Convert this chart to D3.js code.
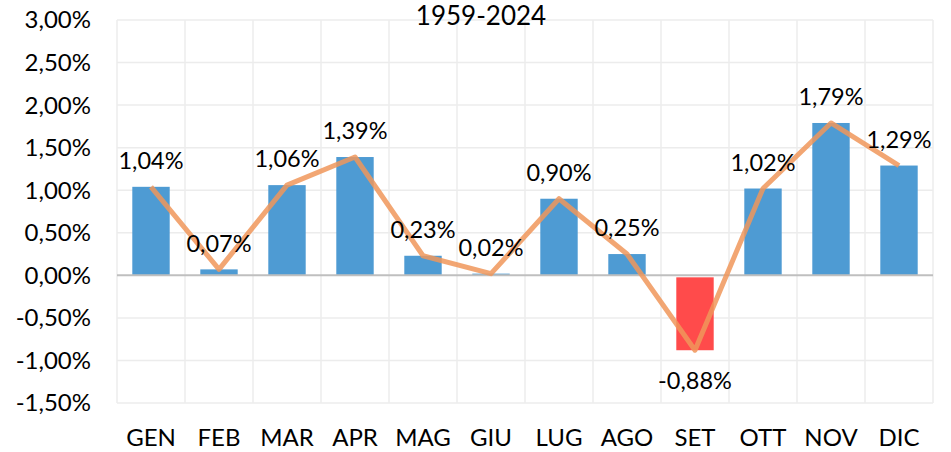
<!DOCTYPE html>
<html>
<head>
<meta charset="utf-8">
<script src="https://cdn.jsdelivr.net/npm/d3@7"></script>
<style>
  body { margin: 0; background: #fff; }
  svg text { font-family: Lato, "Open Sans", sans-serif; fill: #000; }
</style>
</head>
<body>
<div id="chart"></div>
<script>
// months and monthly average returns (%)
var months = ["GEN", "FEB", "MAR", "APR", "MAG", "GIU", "LUG", "AGO", "SET", "OTT", "NOV", "DIC"];
var values = [1.04, 0.07, 1.06, 1.39, 0.23, 0.02, 0.90, 0.25, -0.88, 1.02, 1.79, 1.29];
var yTicks = [-1.5, -1, -0.5, 0, 0.5, 1, 1.5, 2, 2.5, 3];
var title = "1959-2024";

var width = 951, height = 452;
var margin = {top: 20, right: 18, bottom: 49, left: 117};

var svg = d3.select("#chart").append("svg")
    .attr("width", width)
    .attr("height", height);

var x = d3.scaleBand()
    .domain(months)
    .range([margin.left, width - margin.right])
    .paddingInner(0.45)
    .paddingOuter(0.225);

var xGrid = d3.scaleBand()
    .domain(months)
    .range([margin.left, width - margin.right]);

var y = d3.scaleLinear()
    .domain([-1.5, 3])
    .range([height - margin.bottom, margin.top]);

// italian style: comma decimal, plain hyphen for minus
var fmt = function(v) { return d3.format(".2f")(v).replace(".", ",").replace("\u2212", "-") + "%"; };

//horizontal grid
svg.append("g").selectAll("line.h")
    .data(yTicks.filter(function(d) { return d !== 0; }))
    .enter().append("line")
    .attr("x1", margin.left).attr("x2", width - margin.right)
    .attr("y1", function(d) { return y(d); }).attr("y2", function(d) { return y(d); })
    .attr("stroke", "#ececec").attr("stroke-width", 1.5);

//vertical grid
var vx = months.map(function(m) { return xGrid(m); }).concat([width - margin.right]);
svg.append("g").selectAll("line.v")
    .data(vx)
    .enter().append("line")
    .attr("x1", function(d) { return d; }).attr("x2", function(d) { return d; })
    .attr("y1", y(3)).attr("y2", y(-1.5))
    .attr("stroke", "#ececec").attr("stroke-width", 1.5);

//y labels
svg.append("g").selectAll("text")
    .data(yTicks)
    .enter().append("text")
    .attr("x", margin.left - 26)
    .attr("y", function(d) { return y(d); })
    .attr("dy", "0.35em")
    .attr("text-anchor", "end")
    .style("font-size", "24px")
    .text(fmt);

//bars
svg.append("g").selectAll("rect")
    .data(values)
    .enter().append("rect")
    .attr("x", function(d, i) { return x(months[i]); })
    .attr("width", x.bandwidth())
    .attr("y", function(d) { return d >= 0 ? y(d) : y(0) + 2; })
    .attr("height", function(d) { return d >= 0 ? y(0) - y(d) : y(d) - y(0) - 2; })
    .attr("fill", function(d) { return d >= 0 ? "#4e9bd3" : "#ff4b4b"; });

//zero line
svg.append("line")
    .attr("x1", margin.left).attr("x2", width - margin.right)
    .attr("y1", y(0)).attr("y2", y(0))
    .attr("stroke", "#bfbfbf").attr("stroke-width", 2);

//line
var line = d3.line()
    .x(function(d, i) { return x(months[i]) + x.bandwidth() / 2; })
    .y(function(d) { return y(d); });

svg.append("path")
    .datum(values)
    .attr("d", line)
    .attr("fill", "none")
    .attr("stroke", "#f0975a")
    .attr("stroke-opacity", 0.85)
    .attr("stroke-width", 5)
    .attr("stroke-linejoin", "round");

//data labels
svg.append("g").selectAll("text")
    .data(values)
    .enter().append("text")
    .attr("x", function(d, i) { return x(months[i]) + x.bandwidth() / 2; })
    .attr("y", function(d) { return d >= 0 ? y(d) - 26 : y(d) + 31; })
    .attr("dy", "0.35em")
    .attr("text-anchor", "middle")
    .style("font-size", "23.5px")
    .text(fmt);

//x labels
svg.append("g").selectAll("text")
    .data(months)
    .enter().append("text")
    .attr("x", function(d) { return x(d) + x.bandwidth() / 2; })
    .attr("y", 438)
    .attr("dy", "0.35em")
    .attr("text-anchor", "middle")
    .style("font-size", "24px")
    .text(function(d) { return d; });

//title
svg.append("text")
    .attr("x", 481)
    .attr("y", 25)
    .attr("text-anchor", "middle")
    .style("font-size", "26px")
    .text(title);
</script>
</body>
</html>
